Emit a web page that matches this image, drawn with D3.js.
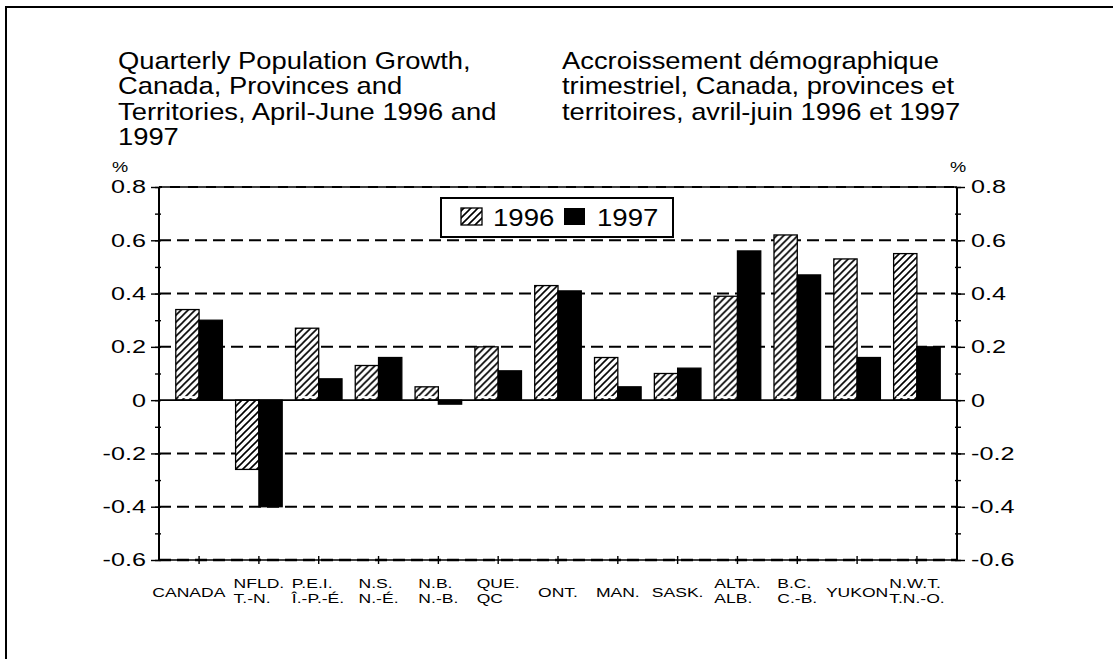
<!DOCTYPE html>
<html><head><meta charset="utf-8">
<script src="https://cdn.jsdelivr.net/npm/d3@7/dist/d3.min.js"></script>
<style>body{margin:0;background:#fff}svg{display:block;font-family:"Liberation Sans",Arial,sans-serif}</style>
</head><body><svg id="c" width="1113" height="659"></svg>
<script>
const categories = ["CANADA","NFLD.\nT.-N.","P.E.I.\nÎ.-P.-É.","N.S.\nN.-É.","N.B.\nN.-B.","QUE.\nQC","ONT.","MAN.","SASK.","ALTA.\nALB.","B.C.\nC.-B.","YUKON","N.W.T.\nT.N.-O."];
const series = ["1996","1997"];
const values1996 = [0.34,-0.26,0.27,0.13,0.05,0.20,0.43,0.16,0.10,0.39,0.62,0.53,0.55];
const values1997 = [0.30,-0.40,0.08,0.16,-0.015,0.11,0.41,0.05,0.12,0.56,0.47,0.16,0.20];
const yTicks = [0.8,0.6,0.4,0.2,0,-0.2,-0.4,-0.6];
const yTickLabels = ["0.8","0.6","0.4","0.2","0","-0.2","-0.4","-0.6"];
const titleEn = ["Quarterly Population Growth,","Canada, Provinces and","Territories, April-June 1996 and","1997"];
const titleFr = ["Accroissement démographique","trimestriel, Canada, provinces et","territoires, avril-juin 1996 et 1997"];

const svg = d3.select("#c");
const L = 159, R = 957, T = 187, B = 560;
const y = d3.scaleLinear().domain([-0.6,0.8]).range([B,T]);
const x = d3.scaleBand().domain(categories).range([L,R]).paddingInner(0).paddingOuter(0.17);
const x1 = d3.scaleBand().domain(series).range([0,x.bandwidth()]).paddingInner(0).paddingOuter(0.284);

// defs: hatch
const defs = svg.append("defs");
const pat = defs.append("pattern").attr("id","hatch").attr("patternUnits","userSpaceOnUse")
  .attr("width",7).attr("height",7);
pat.append("rect").attr("width",7).attr("height",7).attr("fill","#fff");
pat.append("path").attr("d","M-1,8 L8,-1 M-1,1 L1,-1 M6,8 L8,6").attr("stroke","#000").attr("stroke-width",1.6);

// outer frame
svg.append("path").attr("d","M6,700 L6,7 L1200,7").attr("fill","none").attr("stroke","#000").attr("stroke-width",2);

// titles
function titleBlock(lines, tx){
  const g = svg.append("g").attr("transform",`translate(${tx},0) scale(1.14,1)`);
  g.selectAll("text").data(lines).join("text")
    .attr("x",0).attr("y",(d,i)=>69+i*25.5)
    .attr("font-size",24).attr("fill","#000").text(d=>d);
}
titleBlock(titleEn,118);
titleBlock(titleFr,562);

// gridlines
const grid = svg.append("g");
grid.selectAll("line").data(yTicks.filter(v=>v!==0 && v!==0.8 && v!==-0.6)).join("line")
  .attr("x1",L).attr("x2",R).attr("y1",d=>y(d)).attr("y2",d=>y(d))
  .attr("stroke","#000").attr("stroke-width",2).attr("stroke-dasharray","12,6");
// top and bottom frame lines
svg.append("line").attr("x1",L).attr("x2",R).attr("y1",y(0.8)).attr("y2",y(0.8)).attr("stroke","#000").attr("stroke-width",2.2);
svg.append("line").attr("x1",L+3).attr("x2",R).attr("y1",y(0.8)).attr("y2",y(0.8)).attr("stroke","#999").attr("stroke-width",0.8).attr("stroke-dasharray","8,10");
svg.append("line").attr("x1",L).attr("x2",R).attr("y1",y(-0.6)).attr("y2",y(-0.6)).attr("stroke","#000").attr("stroke-width",1.4);
svg.append("line").attr("x1",L).attr("x2",R).attr("y1",y(-0.6)).attr("y2",y(-0.6)).attr("stroke","#000").attr("stroke-width",2.6).attr("stroke-dasharray","12,6");

// bars
const data = categories.map((c,i)=>({c, v:[values1996[i],values1997[i]]}));
const groups = svg.append("g").selectAll("g").data(data).join("g").attr("transform",d=>`translate(${x(d.c)},0)`);
groups.selectAll("rect").data(d=>d.v.map((v,j)=>({s:series[j],v}))).join("rect")
  .attr("x",d=>x1(d.s)).attr("width",x1.bandwidth())
  .attr("y",d=>y(Math.max(0,d.v))).attr("height",d=>Math.abs(y(d.v)-y(0)))
  .attr("fill",d=>d.s==="1996"?"url(#hatch)":"#000")
  .attr("stroke","#000").attr("stroke-width",1.3);
// white base mark inside positive hatched bars
groups.each(function(d){
  if(d.v[0]>0.02){
    d3.select(this).append("line").attr("x1",x1("1996")+3).attr("x2",x1("1996")+x1.bandwidth()-3)
      .attr("y1",y(0)-3).attr("y2",y(0)-3).attr("stroke","#fff").attr("stroke-width",2);
  }
});
// zero line
svg.append("line").attr("x1",L).attr("x2",R).attr("y1",y(0)).attr("y2",y(0)).attr("stroke","#000").attr("stroke-width",1.6);

// axes
const minor = d3.range(-0.6,0.81,0.1).map(v=>Math.round(v*10)/10);
const leftAx = svg.append("g").attr("transform",`translate(${L},0)`);
leftAx.call(d3.axisLeft(y).tickValues(yTicks).tickSize(8).tickFormat(""));
leftAx.call(g=>g.select(".domain").attr("stroke-width",2).attr("d",`M0,${T}V${B}`));
leftAx.append("g").call(d3.axisLeft(y).tickValues(minor).tickSize(4).tickFormat("")).call(g=>g.select(".domain").remove())
  .selectAll("line").attr("x2",-4).attr("x1",2);
const rightAx = svg.append("g").attr("transform",`translate(${R},0)`);
rightAx.call(d3.axisRight(y).tickValues(yTicks).tickSize(8).tickFormat(""));
rightAx.call(g=>g.select(".domain").attr("stroke-width",2).attr("d",`M0,${T}V${B}`));
rightAx.append("g").call(d3.axisRight(y).tickValues(minor).tickSize(4).tickFormat("")).call(g=>g.select(".domain").remove())
  .selectAll("line").attr("x2",4).attr("x1",-2);
svg.selectAll(".tick line").attr("stroke-width",1.4);

// tick labels
const sy = 1.4;
yTicks.forEach((v,i)=>{
  svg.append("text").attr("transform",`translate(146,${y(v)}) scale(${sy},1)`)
    .attr("text-anchor","end").attr("dy","0.36em").attr("font-size",18).text(yTickLabels[i]);
  svg.append("text").attr("transform",`translate(971,${y(v)}) scale(${sy},1)`)
    .attr("text-anchor","start").attr("dy","0.36em").attr("font-size",18).text(yTickLabels[i]);
});
svg.append("text").attr("transform","translate(112,172) scale(1.3,1)").attr("font-size",14).text("%");
svg.append("text").attr("transform","translate(950,172) scale(1.3,1)").attr("font-size",14).text("%");

// bottom axis ticks
const bot = svg.append("g").attr("transform",`translate(0,${B})`);
bot.selectAll("line").data(categories).join("line")
  .attr("x1",d=>x(d)+x.bandwidth()/2).attr("x2",d=>x(d)+x.bandwidth()/2)
  .attr("y1",-4).attr("y2",4).attr("stroke","#000").attr("stroke-width",1.4);

// category labels
const sx = 1.35;
categories.forEach((c,k)=>{
  const lines = c.split("\n");
  const cx = x(c)+x.bandwidth()/2 - (k===0?10:0);
  const tg = svg.append("g");
  const base = lines.length===1 ? 597 : 588;
  lines.forEach((t,i)=>{
    tg.append("text").attr("x",0).attr("y",base+i*15).attr("font-size",13).text(t);
  });
  const w = tg.node().getBBox().width;
  tg.attr("transform",`translate(${cx - w*sx/2},0) scale(${sx},1)`);
});

// legend
const lg = svg.append("g");
lg.append("rect").attr("x",441).attr("y",198).attr("width",232).attr("height",39).attr("fill","#fff").attr("stroke","#000").attr("stroke-width",2);
lg.append("rect").attr("x",461).attr("y",208).attr("width",21).attr("height",17).attr("fill","url(#hatch)").attr("stroke","#000").attr("stroke-width",1.3);
lg.append("text").attr("transform","translate(493,226) scale(1.2,1)").attr("font-size",23).text(series[0]);
lg.append("rect").attr("x",564).attr("y",208).attr("width",21).attr("height",17).attr("fill","#000");
lg.append("text").attr("transform","translate(597,226) scale(1.2,1)").attr("font-size",23).text(series[1]);
</script></body></html>
